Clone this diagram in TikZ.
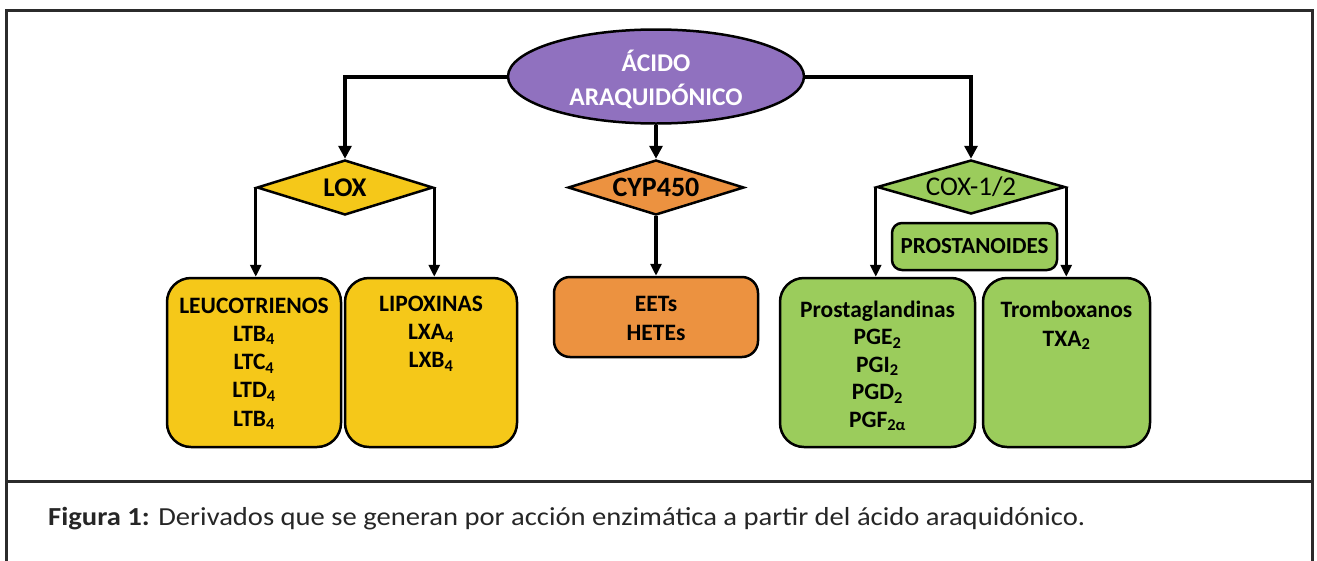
\documentclass[tikz,border=0pt]{standalone}
\usepackage{fontspec}
\setmainfont{Carlito}
\usetikzlibrary{shapes.geometric,arrows.meta}
\definecolor{purp}{HTML}{9071BF}
\definecolor{yel}{HTML}{F5C819}
\definecolor{ora}{HTML}{EC9240}
\definecolor{grn}{HTML}{9BCC5C}
\definecolor{frame}{HTML}{2B2B2B}
\tikzset{
  diam/.style={diamond, draw=black, line width=2.5pt, inner sep=0pt, aspect=3.2},
  cbox/.style={draw=black, line width=2.5pt, rounded corners=24pt, inner sep=0pt},
  txt/.style={anchor=base, inner sep=0pt, font=\bfseries\fontsize{23.5}{28}\selectfont},
  mainarrow/.style={line width=4pt, -{Triangle[width=13pt,length=13pt]}},
  subarrow/.style={line width=3pt, -{Triangle[width=11pt,length=12pt]}},
}
\begin{document}
\begin{tikzpicture}[x=1pt,y=-1pt]
\useasboundingbox (0,0) rectangle (1317,560);
% frame
\draw[frame, line width=3pt] (6,565) -- (6,10) -- (1312,10) -- (1312,565);
\draw[frame, line width=3pt] (6,481) -- (1312,481);

% root
\node[ellipse, draw=black, line width=2.5pt, fill=purp, minimum width=296pt, minimum height=94pt, inner sep=0pt] (aa) at (656,76.5) {};
\node[txt, text=white, font=\bfseries\fontsize{25.5}{30}\selectfont] (aa-1) at (656,71) {ÁCIDO};
\node[txt, text=white, font=\bfseries\fontsize{25.5}{30}\selectfont] (aa-2) at (656,105) {ARAQUIDÓNICO};

% enzymes
\node[diam, fill=yel, minimum width=176pt, minimum height=55pt, font=\bfseries\fontsize{27}{30}\selectfont] (lox) at (345,187.5) {LOX};
\node[diam, fill=ora, minimum width=176pt, minimum height=55pt, font=\bfseries\fontsize{28}{30}\selectfont] (cyp) at (656,187.5) {CYP450};
\node[diam, fill=grn, minimum width=188pt, minimum height=54pt, font=\fontsize{27}{30}\selectfont] (cox) at (971,187) {COX-1/2};

% boxes
\node[cbox, fill=yel, minimum width=174pt, minimum height=169pt] (leu) at (254,362.5) {};
\node[cbox, fill=yel, minimum width=172pt, minimum height=169pt] (lip) at (431,362.5) {};
\node[cbox, fill=ora, rounded corners=16pt, minimum width=204pt, minimum height=80pt] (eet) at (656,317) {};
\node[cbox, fill=grn, minimum width=195pt, minimum height=169pt] (pg) at (877.5,362.5) {};
\node[cbox, fill=grn, minimum width=167pt, minimum height=169pt] (tx) at (1066.5,362.5) {};
\node[cbox, fill=grn, rounded corners=10pt, minimum width=165pt, minimum height=47pt, font=\bfseries\fontsize{23}{28}\selectfont] (prost) at (974.5,246.5) {PROSTANOIDES};

% box texts
\foreach [count=\i] \t in {LEUCOTRIENOS, LTB\textsubscript{4}, LTC\textsubscript{4}, LTD\textsubscript{4}, LTB\textsubscript{4}}
  \node[txt] (leu-\i) at (254,{313+28.25*(\i-1)}) {\t};
\foreach [count=\i] \t in {LIPOXINAS, LXA\textsubscript{4}, LXB\textsubscript{4}}
  \node[txt] (lip-\i) at (431,{311+28.25*(\i-1)}) {\t};
\foreach [count=\i] \t in {EETs, HETEs}
  \node[txt] (eet-\i) at (656,{311+29*(\i-1)}) {\t};
\foreach [count=\i] \t in {Prostaglandinas, PGE\textsubscript{2}, PGI\textsubscript{2}, PGD\textsubscript{2}, PGF\textsubscript{2α}}
  \node[txt] (pg-\i) at (877.5,{317+27.5*(\i-1)}) {\t};
\foreach [count=\i] \t in {Tromboxanos, TXA\textsubscript{2}}
  \node[txt] (tx-\i) at (1066.5,{317+29*(\i-1)}) {\t};

% connectors
\draw[mainarrow] (aa.west) -| (lox.north);
\draw[mainarrow] (aa.south) -- (cyp.north);
\draw[mainarrow] (aa.east) -| (cox.north);
\draw[subarrow] (lox.west) -- (lox.west |- leu.north);
\draw[subarrow] (lox.east) -- (lox.east |- lip.north);
\draw[subarrow, line width=3.5pt] (cyp.south) -- (eet.north);
\draw[subarrow] (cox.west) -- (cox.west |- pg.north);
\draw[subarrow] (cox.east) -- (cox.east |- tx.north);

% caption
\node[anchor=base west, inner sep=0pt, text=black!85] (cap) at (48,525) {\scalebox{1.1}[1]{\fontsize{26}{30}\selectfont\textbf{Figura 1:} Derivados que se generan por acción enzimática a partir del ácido araquidónico.}};
\end{tikzpicture}
\end{document}
